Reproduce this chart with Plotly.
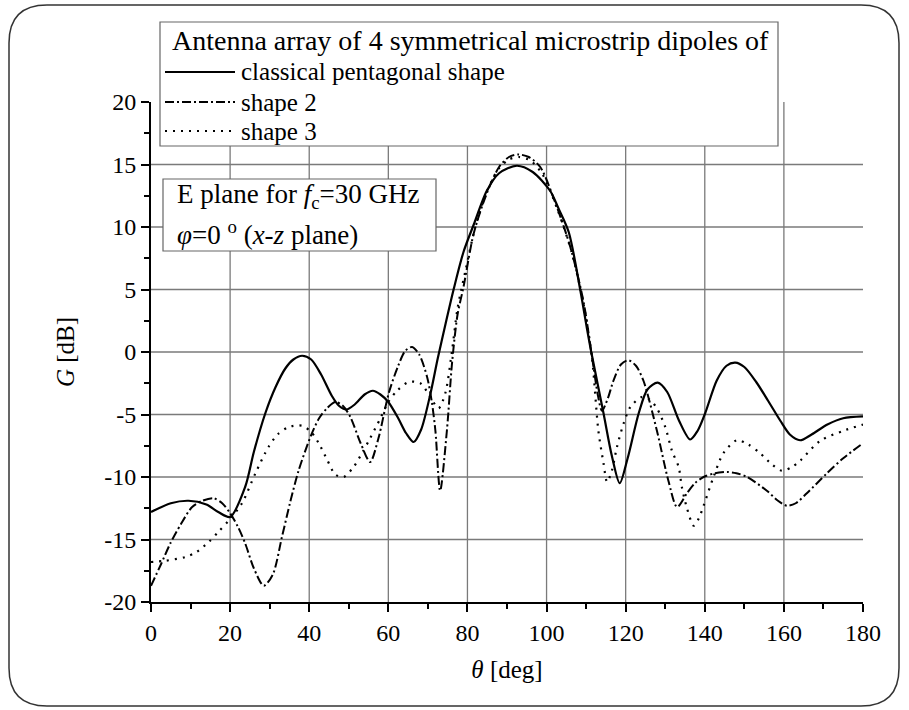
import plotly.graph_objects as go

# ---------------- data ----------------
theta_classical = [0, 5, 9.5, 14, 17, 20, 23.8, 26, 28.9, 31.5, 34, 36, 38.2, 40.5, 43, 45.7, 47.5, 49.4,
                   51.5, 54, 56.1, 58, 60, 62.5, 64.5, 66.4, 68.3, 70.6, 72.5, 74.5, 76.5, 79, 81.6, 84.9,
                   88, 92.5, 96.5, 100.9, 103, 105.6, 108.5, 110.2, 111.3, 114.4, 116.5, 118.5, 120.5,
                   123.3, 125.5, 128.1, 130.5, 133.5, 136.3, 138.2, 140.1, 143, 145.5, 147.7, 150, 153,
                   156, 159.1, 161.5, 164.1, 167, 171, 175, 180]
g_classical = [-12.8, -12.1, -11.9, -12.2, -12.8, -13.2, -10.8, -8, -4.9, -2.8, -1.3, -0.6, -0.3, -0.6,
               -1.8, -3.5, -4.3, -4.6, -4.2, -3.4, -3.1, -3.4, -4.0, -5.3, -6.5, -7.2, -6.2, -3.4, -0.5,
               2.3, 5.0, 8.0, 10.2, 12.9, 14.3, 14.9, 14.4, 12.9, 11.5, 9.6, 5.0, 1.9, 0.0, -4.9, -8.3,
               -10.5, -8.5, -4.9, -3.0, -2.45, -3.2, -5.5, -7.0, -6.3, -4.9, -2.3, -1.1, -0.85, -1.2,
               -2.4, -3.9, -5.5, -6.6, -7.06, -6.6, -5.8, -5.3, -5.15]

theta_shape2 = [0, 2.5, 4.9, 7.5, 10.4, 13, 15.8, 18, 20, 22, 23.8, 26, 28.5, 30.8, 33.1, 35.2, 37.3,
                40.3, 42.5, 44.5, 46.6, 48.5, 50.4, 53, 55.4, 57.5, 60.1, 62.5, 64.3, 66, 67.8, 69.8,
                71, 71.9, 73.1, 74.8, 76.1, 77.5, 79, 81.6, 84.9, 88, 90.5, 92.9, 95.5, 98.4, 102.6,
                106, 109.3, 111.5, 113, 114, 115.5, 116.9, 118.8, 120.7, 122.6, 124.5, 127.9, 130.8,
                133, 135.5, 137.5, 139.7, 142.5, 145.6, 148, 150.7, 155.7, 158.5, 160.8, 163, 165.8,
                170.9, 175, 180]
g_shape2 = [-18.7, -17, -15.3, -13.8, -12.4, -11.9, -11.7, -12.1, -12.9, -14, -15.3, -17.3, -18.7,
            -17.8, -14.8, -12, -9.5, -6.8, -5.3, -4.5, -4.0, -4.3, -5.2, -7.3, -8.8, -6.9, -3.3, -1.1,
            0.1, 0.4, -0.2, -2.0, -4, -6.3, -11.1, -6.3, -0.9, 3, 5.2, 9.5, 12.7, 14.8, 15.6, 15.8,
            15.6, 14.8, 11.6, 8.4, 4.1, -0.4, -3.5, -4.7, -3.7, -2.3, -1.0, -0.66, -1.1, -2.3, -6.3,
            -10.3, -12.4, -11.3, -10.5, -10.0, -9.7, -9.6, -9.7, -10.0, -11.1, -11.9, -12.3, -12.1,
            -11.3, -9.7, -8.5, -7.3]

theta_shape3 = [0, 3.6, 8.7, 11.5, 14.6, 17, 19.6, 23, 26.4, 29.7, 32, 34.8, 38.2, 40.5, 42.4, 44.5,
                46.6, 48.7, 51.2, 53.5, 55.4, 58, 60, 62.2, 65.1, 68.1, 70.6, 72.7, 74.4, 76.1, 77.5,
                79.5, 82, 85, 88, 90.5, 93, 96, 99, 103, 106.5, 109.5, 111.5, 113.1, 114.4, 115.3,
                116.5, 117.8, 119.5, 121.2, 124.1, 126, 127.9, 130, 131.7, 133.4, 134.2, 135.5, 137.2,
                138.5, 139.7, 142.2, 144.7, 148.1, 151, 154, 157, 159.5, 162, 164.1, 169.2, 175.1, 180]
g_shape3 = [-16.8, -16.7, -16.4, -16, -15.2, -14.4, -13.5, -12.1, -9.7, -7.6, -6.6, -6.0, -5.9, -6.4,
            -7.3, -8.6, -9.8, -10.0, -9.2, -8.0, -6.9, -5.3, -4.0, -3.1, -2.4, -2.5, -3.6, -4.5, -3.3,
            0.1, 3.5, 6.5, 10, 12.9, 14.7, 15.4, 15.6, 15.3, 14.2, 11.2, 7.8, 3.6, -0.5, -6.3, -8.9,
            -10.4, -9.5, -7.6, -5.7, -4.4, -3.6, -3.8, -4.5, -6.0, -7.9, -9.2, -10.8, -12.5, -13.9,
            -13.3, -12.3, -10.0, -8.1, -7.06, -7.4, -8.1, -9.0, -9.5, -9.2, -8.7, -7.1, -6.3, -5.8]

series_names = ["classical pentagonal shape", "shape 2", "shape 3"]
legend_title = "Antenna array of 4 symmetrical microstrip dipoles of"
note_lines = ["E plane for <i>f</i><sub>c</sub>=30 GHz",
              "<i>φ</i>=0 <sup>o</sup> (<i>x</i>-<i>z</i> plane)"]
x_ticks = [0, 20, 40, 60, 80, 100, 120, 140, 160, 180]
y_ticks = [-20, -15, -10, -5, 0, 5, 10, 15, 20]
x_grid = [20, 40, 60, 80, 100, 120, 140, 160]
y_grid = [-15, -10, -5, 0, 5, 10, 15]

FONT = "Liberation Serif, Times New Roman, serif"

# plot-area placement in page pixels and helpers to convert to paper coords
L, R, T, B = 151, 863, 102, 602
def px(xp):
    return (xp - L) / (R - L)
def py(yp):
    return (B - yp) / (B - T)

fig = go.Figure()
styles = [dict(dash="solid", width=2.2),
          dict(dash="9px,3px,2px,3px", width=2),
          dict(dash="2px,6px", width=2.2)]
for name, th, g, st in zip(series_names,
                           [theta_classical, theta_shape2, theta_shape3],
                           [g_classical, g_shape2, g_shape3], styles):
    fig.add_trace(go.Scatter(x=th, y=g, mode="lines", name=name, showlegend=False,
                             line=dict(color="black", shape="spline", smoothing=0.8, **st)))

shapes = []
annotations = []
# grid lines (no grid at the top edge / right edge, as in the reference)
for xv in x_grid:
    shapes.append(dict(type="line", xref="x", yref="y", x0=xv, x1=xv, y0=-20, y1=20,
                       line=dict(color="#7a7a7a", width=1.3), layer="below"))
for yv in y_grid:
    shapes.append(dict(type="line", xref="x", yref="y", x0=0, x1=180, y0=yv, y1=yv,
                       line=dict(color="#7a7a7a", width=1.3), layer="below"))

# legend box (drawn by hand so its size matches the reference)
shapes.append(dict(type="rect", xref="paper", yref="paper", x0=px(160), x1=px(778), y0=py(146), y1=py(22),
                   line=dict(color="#666666", width=1.2), fillcolor="white", layer="above"))
annotations.append(dict(xref="paper", yref="paper", x=px(170), y=py(41), xanchor="left", yanchor="middle",
                        text=legend_title, showarrow=False,
                        font=dict(family=FONT, size=28, color="black")))
row_y = [72, 102, 131]
for name, st, ry in zip(series_names, styles, row_y):
    shapes.append(dict(type="line", xref="paper", yref="paper", x0=px(165), x1=px(235), y0=py(ry), y1=py(ry),
                       line=dict(color="black", width=st["width"], dash=st["dash"]), layer="above"))
    annotations.append(dict(xref="paper", yref="paper", x=px(239), y=py(ry), xanchor="left",
                            yanchor="middle", text=name, showarrow=False,
                            font=dict(family=FONT, size=25, color="black")))

# note box
shapes.append(dict(type="rect", xref="paper", yref="paper", x0=px(163), x1=px(436), y0=py(251), y1=py(179),
                   line=dict(color="#666666", width=1.2), fillcolor="white", layer="above"))
for txt, ny in zip(note_lines, [196, 233]):
    annotations.append(dict(xref="paper", yref="paper", x=px(175), y=py(ny), xanchor="left",
                            yanchor="middle", text=txt, showarrow=False,
                            font=dict(family=FONT, size=27, color="black")))

# rounded frame around the whole picture
fx0, fx1, fy0, fy1, rad = 9, 899, 5, 706, 38
path = (f"M {px(fx0+rad)},{py(fy0)} L {px(fx1-rad)},{py(fy0)} "
        f"Q {px(fx1)},{py(fy0)} {px(fx1)},{py(fy0+rad)} "
        f"L {px(fx1)},{py(fy1-rad)} Q {px(fx1)},{py(fy1)} {px(fx1-rad)},{py(fy1)} "
        f"L {px(fx0+rad)},{py(fy1)} Q {px(fx0)},{py(fy1)} {px(fx0)},{py(fy1-rad)} "
        f"L {px(fx0)},{py(fy0+rad)} Q {px(fx0)},{py(fy0)} {px(fx0+rad)},{py(fy0)} Z")
shapes.append(dict(type="path", xref="paper", yref="paper", path=path,
                   line=dict(color="#333333", width=1.5), layer="above"))

fig.update_layout(
    width=909, height=710,
    margin=dict(l=L, r=909 - R, t=T, b=710 - B),
    paper_bgcolor="white", plot_bgcolor="white",
    font=dict(family=FONT, size=22, color="black"),
    showlegend=False,
    shapes=shapes,
    annotations=annotations,
    xaxis=dict(range=[0, 180], tickvals=x_ticks, ticktext=[str(v) for v in x_ticks],
               showgrid=False, zeroline=False, showline=True, linecolor="black", linewidth=2,
               ticks="outside", ticklen=8, tickwidth=2, tickcolor="black",
               minor=dict(tickvals=[10, 30, 50, 70, 90, 110, 130, 150, 170], ticks="outside",
                          ticklen=5, tickwidth=2, tickcolor="black", showgrid=False),
               tickfont=dict(family=FONT, size=24),
               title=dict(text="<i>θ</i> [deg]", font=dict(family=FONT, size=25), standoff=16)),
    yaxis=dict(range=[-20, 20], tickvals=y_ticks, ticktext=[str(v) for v in y_ticks],
               showgrid=False, zeroline=False, showline=True, linecolor="black", linewidth=2,
               ticks="outside", ticklen=8, tickwidth=2, tickcolor="black",
               minor=dict(tickvals=[-17.5, -12.5, -7.5, -2.5, 2.5, 7.5, 12.5, 17.5], ticks="outside",
                          ticklen=5, tickwidth=2, tickcolor="black", showgrid=False),
               tickfont=dict(family=FONT, size=24),
               title=dict(text="<i>G</i> [dB]", font=dict(family=FONT, size=25), standoff=22)),
)

fig.write_html("out.html", config={"displayModeBar": False},
               post_script="document.body.style.margin='0px';")
